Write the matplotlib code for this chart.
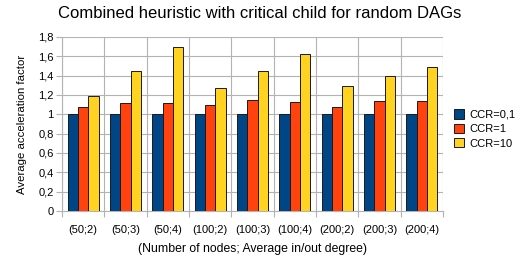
"""Combined heuristic with critical child: grouped bar chart."""

import matplotlib
matplotlib.use("Agg")
import matplotlib.pyplot as plt
import numpy as np

plt.rcParams["font.family"] = ["Liberation Sans", "DejaVu Sans"]

# Data
categories = ["(50;2)", "(50;3)", "(50;4)", "(100;2)", "(100;3)",
              "(100;4)", "(200;2)", "(200;3)", "(200;4)"]
ccr_01 = [1.0, 1.0, 1.0, 1.0, 1.0, 1.0, 1.0, 1.0, 1.0]
ccr_1 = [1.08, 1.12, 1.12, 1.10, 1.145, 1.13, 1.075, 1.14, 1.14]
ccr_10 = [1.19, 1.445, 1.70, 1.27, 1.445, 1.62, 1.29, 1.40, 1.49]
series_names = ["CCR=0,1", "CCR=1", "CCR=10"]
y_ticks = [0, 0.2, 0.4, 0.6, 0.8, 1, 1.2, 1.4, 1.6, 1.8]

colors = ["#004586", "#ff420e", "#ffd320"]

fig = plt.figure(figsize=(5.2, 2.57), dpi=100)
ax = fig.add_axes([62 / 520, 1 - 211 / 257, (443 - 62) / 520, (211 - 37) / 257])

x = np.arange(len(categories))
width = 0.245
for i, (values, name) in enumerate(zip([ccr_01, ccr_1, ccr_10], series_names)):
    ax.bar(x + (i - 1) * width, values, width, color=colors[i],
           edgecolor="#1a1a1a", linewidth=0.7, label=name, zorder=3)

ax.set_xlim(-0.5, len(categories) - 0.5)
ax.set_ylim(0, 1.8)
ax.set_yticks(y_ticks)
ax.set_yticklabels([f"{t:g}".replace(".", ",") for t in y_ticks], fontsize=8)

# Ticks and vertical grid at category boundaries, labels in between
ax.set_xticks(np.arange(len(categories) + 1) - 0.5)
ax.set_xticklabels([])
ax.set_xticks(x, minor=True)
ax.set_xticklabels(categories, minor=True, fontsize=8)
ax.tick_params(axis="x", which="minor", length=0, pad=10)
ax.tick_params(axis="x", which="major", length=4, color="#b3b3b3")
ax.tick_params(axis="y", length=4, color="#b3b3b3", pad=2)

ax.grid(True, which="major", color="#b3b3b3", linewidth=0.8, zorder=0)
for side in ["top", "right"]:
    ax.spines[side].set_visible(False)
for side in ["left", "bottom"]:
    ax.spines[side].set_color("#b3b3b3")

ax.set_ylabel("Average acceleration factor", fontsize=8.2, labelpad=8)
fig.text(252 / 520, 1 - 249 / 257, "(Number of nodes; Average in/out degree)",
         fontsize=8.8, ha="center", va="center")
fig.suptitle("Combined heuristic with critical child for random DAGs",
             fontsize=12, x=0.5, y=0.975)

ax.legend(loc="upper left", bbox_to_anchor=(450 / 520, 1 - 105 / 257),
          bbox_transform=fig.transFigure, frameon=False, fontsize=8,
          handlelength=0.9, handleheight=0.9, handletextpad=0.4,
          labelspacing=0.35, borderaxespad=0)

fig.savefig("out.png", dpi=100)
